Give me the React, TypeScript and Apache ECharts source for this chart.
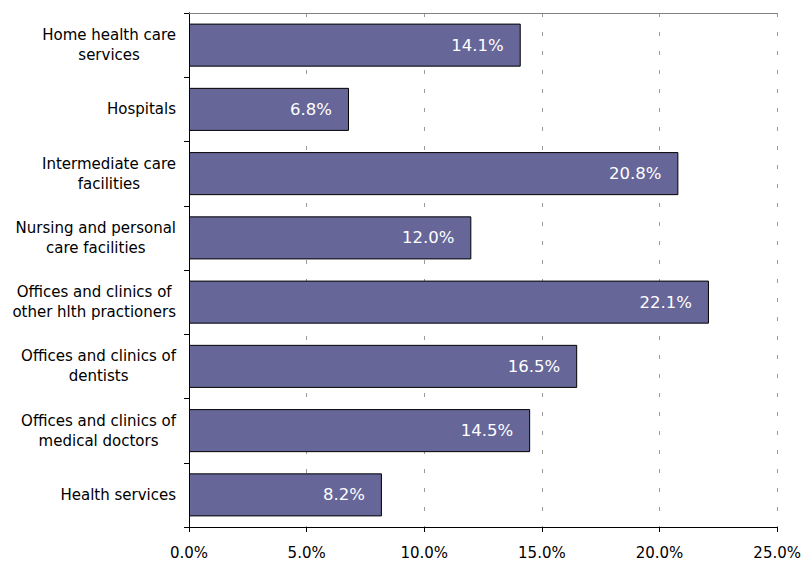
import React, { useEffect, useRef } from "react";
import * as echarts from "echarts";

const categories = [
  "Home health care\nservices",
  "Hospitals",
  "Intermediate care\nfacilities",
  "Nursing and personal\ncare facilities",
  "Offices and clinics of\nother hlth practioners",
  "Offices and clinics of\ndentists",
  "Offices and clinics of\nmedical doctors",
  "Health services",
];
const values = [14.1, 6.8, 20.8, 12.0, 22.1, 16.5, 14.5, 8.2];
const xTicks = { min: 0, max: 25, interval: 5 };

const FONT = "DejaVu Sans";

export default function App() {
  const ref = useRef<HTMLDivElement>(null);
  useEffect(() => {
    if (!ref.current) return;
    const chart = echarts.init(ref.current, undefined, { renderer: "svg" });
    chart.setOption({
      animation: false,
      backgroundColor: "#ffffff",
      grid: { left: 189, right: 23, top: 13, bottom: 34, containLabel: false },
      xAxis: [
        {
          type: "value",
          min: xTicks.min,
          max: xTicks.max,
          interval: xTicks.interval,
          position: "bottom",
          axisLine: { show: true, lineStyle: { color: "#000", width: 1 } },
          axisTick: { show: true, length: 5, lineStyle: { color: "#000" } },
          axisLabel: {
            formatter: (v: number) => v.toFixed(1) + "%",
            color: "#000",
            fontFamily: FONT,
            fontSize: 15,
            margin: 18,
          },
          splitLine: {
            show: true,
            lineStyle: { color: "#9a9a9a", type: [4, 15], width: 1 },
          },
        },
        {
          type: "value",
          min: xTicks.min,
          max: xTicks.max,
          interval: xTicks.interval,
          position: "top",
          axisLine: { show: true, lineStyle: { color: "#808080", width: 1 } },
          axisTick: { show: false },
          axisLabel: { show: false },
          splitLine: { show: false },
        },
      ],
      yAxis: [
        {
          type: "category",
          data: categories,
          inverse: true,
          position: "left",
          axisLine: { show: true, lineStyle: { color: "#000", width: 1 } },
          axisTick: { show: true, length: 5, alignWithLabel: false, lineStyle: { color: "#000" } },
          axisLabel: {
            color: "#000",
            fontFamily: FONT,
            fontSize: 15,
            margin: 13,
            align: "right",
            lineHeight: 20,
            formatter: (v: string) =>
              v
                .split("\n")
                .map((l) => `{c|${l}}`)
                .join("\n"),
            rich: {
              c: {
                align: "center",
                fontFamily: FONT,
                fontSize: 15,
                lineHeight: 20,
                color: "#000",
              },
            },
          },
          splitLine: { show: false },
        },
        {
          type: "category",
          data: categories,
          inverse: true,
          position: "right",
          axisLine: { show: true, lineStyle: { color: "#000", width: 1 } },
          axisTick: { show: false },
          axisLabel: { show: false },
          splitLine: { show: false },
        },
      ],
      series: [
        {
          type: "bar",
          data: values,
          xAxisIndex: 0,
          yAxisIndex: 0,
          barCategoryGap: "33%",
          itemStyle: { color: "#666699", borderColor: "#000", borderWidth: 1 },
          label: {
            show: true,
            position: "insideRight",
            distance: 17,
            color: "#ffffff",
            fontFamily: FONT,
            fontSize: 16.5,
            formatter: (p: any) => Number(p.value).toFixed(1) + "%",
          },
        },
      ],
    });
    return () => chart.dispose();
  }, []);
  return (
    <div
      ref={ref}
      style={{ position: "absolute", left: 0, top: 0, width: 804, height: 561 }}
    />
  );
}
